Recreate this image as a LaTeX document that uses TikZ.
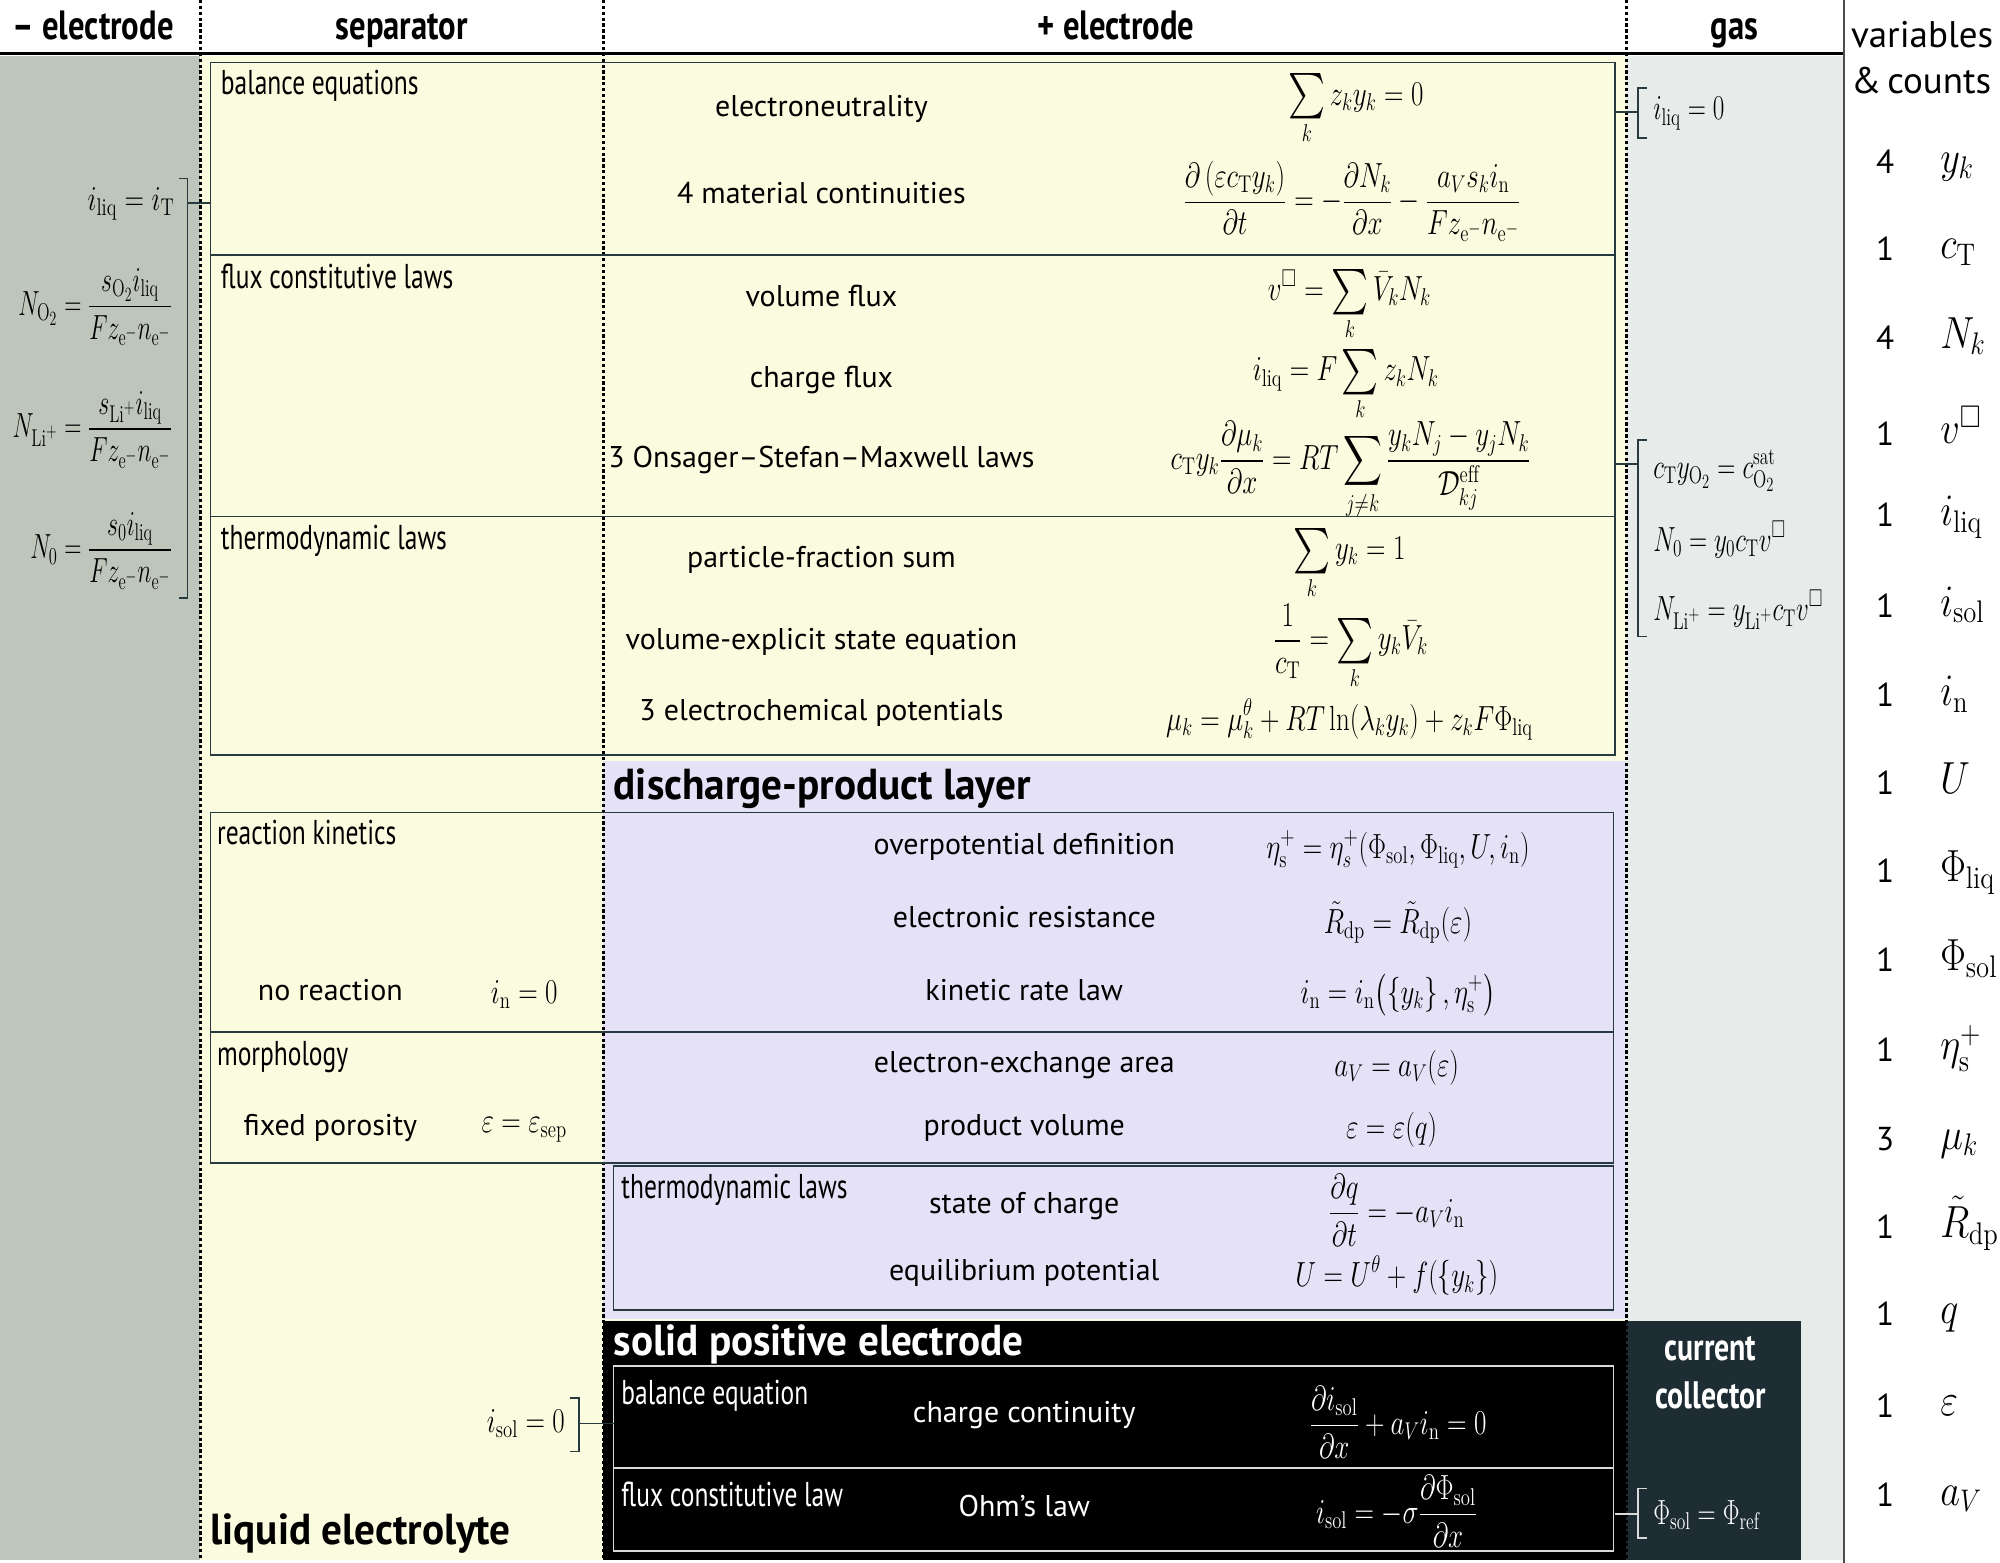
\documentclass[tikz,border=0pt]{standalone}
\usepackage{amsmath,amssymb}
\usepackage{graphicx}
\usepackage{fontspec}
\newfontfamily\txtf{PT Sans}
\newfontfamily\cndf[FakeStretch=0.74]{PT Sans}
\newfontfamily\hdrf[FakeStretch=0.8]{PT Sans}
\newfontfamily\ccf[FakeStretch=0.78]{PT Sans}
\newfontfamily\bigf[FakeStretch=0.95]{PT Sans}
\definecolor{negc}{RGB}{190,197,187}
\definecolor{liqc}{RGB}{251,251,223}
\definecolor{gasc}{RGB}{231,236,234}
\definecolor{dpc}{RGB}{229,226,248}
\definecolor{ccc}{RGB}{30,45,52}
\definecolor{boxc}{RGB}{38,58,64}
\newcommand\EQ[1]{\scalebox{1.02}[1.32]{$\displaystyle #1$}}
\newcommand\EQN[1]{\scalebox{0.9}[1.32]{$\displaystyle #1$}}
\newcommand\EQG[1]{\scalebox{0.95}[1.32]{$\displaystyle #1$}}
\newcommand\VAR[1]{\scalebox{1.45}[1.7]{$#1$}}
\newcommand\SUM{\mathop{\vcenter{\hbox{\scalebox{1.3}{$\textstyle\sum$}}}}\limits}
\newcommand\rmsub[1]{\mathrm{#1}}
\begin{document}
\begin{tikzpicture}[x=1pt,y=-1pt,
  box/.style={draw=boxc,line width=1.3pt},
  wbox/.style={draw=white!85!black,line width=1.3pt},
  dots/.style={line width=2.1pt,dash pattern=on 2.6pt off 2pt},
  brk/.style={draw=boxc,line width=1.3pt},
  wbrk/.style={draw=white!85!black,line width=1.3pt},
  txt/.style={inner sep=0pt,font=\txtf\fontsize{23.5}{28}\selectfont,anchor=mid},
  lbl/.style={inner sep=0pt,font=\cndf\fontsize{27}{32}\selectfont,anchor=base west},
  hdr/.style={inner sep=0pt,font=\hdrf\bfseries\fontsize{32}{38}\selectfont,anchor=base},
  big/.style={inner sep=0pt,font=\bigf\bfseries\fontsize{34}{40}\selectfont,anchor=base west},
  ccl/.style={inner sep=0pt,font=\ccf\bfseries\fontsize{30}{36}\selectfont,anchor=base,text=white},
  eq/.style={inner sep=0pt,font=\fontsize{20.74}{25}\selectfont},
  cnt/.style={inner sep=0pt,font=\txtf\fontsize{26}{30}\selectfont,anchor=base},
  var/.style={inner sep=0pt,font=\fontsize{20.74}{25}\selectfont,anchor=base west},
]
\useasboundingbox (0,0) rectangle (1568,1225);
% backgrounds
\fill[white] (0,0) rectangle (1568,1225);
\fill[negc] (0,44) rectangle (157,1223);
\fill[liqc] (157,44) rectangle (1275,1223);
\fill[gasc] (1275,44) rectangle (1446,1223);
\fill[dpc] (473,597) rectangle (1275,1034);
\fill[black] (473,1036) rectangle (1275,1223);
\fill[ccc] (1275,1036) rectangle (1412,1223);
% frame lines
\draw[line width=3pt] (0,42) -- (1446,42);
\draw[line width=1.5pt,black!70] (1446,0) -- (1446,1225);
\draw[dots] (157,0) -- (157,1223);
\draw[dots] (473,0) -- (473,1223);
\draw[dots] (1275,0) -- (1275,1223);
% boxes
\draw[box] (165,49) rectangle (1266,592);
\draw[box] (165,200) -- (1266,200);
\draw[box] (165,405) -- (1266,405);
\draw[box] (165,637) rectangle (1265,912);
\draw[box] (165,809) -- (1265,809);
\draw[box] (481,914) rectangle (1265,1027);
\draw[wbox] (481,1071) rectangle (1265,1216);
\draw[wbox] (481,1151) -- (1265,1151);
% headers
\node[hdr] (h1) at (73,31) {– electrode};
\node[hdr] (h2) at (315,31) {separator};
\node[hdr] (h3) at (875,31) {+ electrode};
\node[hdr] (h4) at (1360,31) {gas};
\node[inner sep=0pt,font=\txtf\fontsize{29}{34}\selectfont,anchor=base west] (h5) at (1451,37) {variables};
\node[inner sep=0pt,font=\txtf\fontsize{29}{34}\selectfont,anchor=base west] (h6) at (1451,73) {\&\,counts};
% section labels
\node[lbl] (s1) at (173,74) {balance equations};
\node[lbl] (s2) at (173,226) {flux constitutive laws};
\node[lbl] (s3) at (173,431) {thermodynamic laws};
\node[lbl] (s4) at (170,662) {reaction kinetics};
\node[lbl] (s5) at (170,835) {morphology};
\node[lbl] (s6) at (487,940) {thermodynamic laws};
\node[lbl,text=white] (s7) at (487,1101) {balance equation};
\node[lbl,text=white] (s8) at (487,1181) {flux constitutive law};
\node[big] (b1) at (481,627) {discharge-product layer};
\node[big,text=white] (b2) at (481,1063) {solid positive electrode};
\node[big] (b3) at (165,1211) {liquid electrolyte};
\node[ccl] (b4) at (1341,1067) {current};
\node[ccl] (b5) at (1341,1104) {collector};
% liquid texts
\node[txt] (t1) at (644,89) {electroneutrality};
\node[txt] (t2) at (644,157) {4 material continuities};
\node[txt] (t3) at (644,238) {volume flux};
\node[txt] (t4) at (644,302) {charge flux};
\node[txt] (t5) at (644,364) {3 Onsager–Stefan–Maxwell laws};
\node[txt] (t6) at (644,443) {particle-fraction sum};
\node[txt] (t7) at (644,507) {volume-explicit state equation};
\node[txt] (t8) at (644,563) {3 electrochemical potentials};
% dp texts
\node[txt] (t9) at (803,668) {overpotential definition};
\node[txt] (t10) at (803,725) {electronic resistance};
\node[txt] (t11) at (803,782) {kinetic rate law};
\node[txt] (t12) at (803,839) {electron-exchange area};
\node[txt] (t13) at (803,888) {product volume};
\node[txt] (t14) at (803,949) {state of charge};
\node[txt] (t15) at (803,1002) {equilibrium potential};
\node[txt,text=white] (t16) at (803,1113) {charge continuity};
\node[txt,text=white] (t17) at (803,1187) {Ohm’s law};
\node[txt] (t18) at (259,782) {no reaction};
\node[txt] (t19) at (259,888) {fixed porosity};
% liquid equations
\node[eq] (e1) at (1063,86) {\EQ{\SUM_k z_k y_k = 0}};
\node[eq] (e2) at (1060,158) {\EQ{\frac{\partial\left(\varepsilon c_{\rmsub T} y_k\right)}{\partial t} = -\frac{\partial N_k}{\partial x} - \frac{a_V s_k i_{\rmsub n}}{F z_{\mathrm{e}^-} n_{\mathrm{e}^-}}}};
\node[eq] (e3) at (1058,239) {\EQ{v^{\square} = \SUM_k \bar{V}_k N_k}};
\node[eq] (e4) at (1055,302) {\EQ{i_{\rmsub{liq}} = F\SUM_k z_k N_k}};
\node[eq] (e5) at (1059,369) {\EQ{c_{\rmsub T} y_k \frac{\partial \mu_k}{\partial x} = RT\sum_{j\neq k}\frac{y_k N_j - y_j N_k}{\mathcal{D}_{kj}^{\rmsub{eff}}}}};
\node[eq] (e6) at (1058,442) {\EQ{\SUM_k y_k = 1}};
\node[eq] (e7) at (1059,507) {\EQ{\frac{1}{c_{\rmsub T}} = \SUM_k y_k \bar{V}_k}};
\node[eq] (e8) at (1058,564) {\EQ{\mu_k = \mu_k^{\theta} + RT\ln\!\left(\lambda_k y_k\right) + z_k F \Phi_{\rmsub{liq}}}};
% dp equations
\node[eq] (e9) at (1096,666) {\EQ{\eta_{\rmsub s}^{+} = \eta_s^{+}\!\left(\Phi_{\rmsub{sol}},\Phi_{\rmsub{liq}},U,i_{\rmsub n}\right)}};
\node[eq] (e10) at (1096,723) {\EQ{\tilde{R}_{\rmsub{dp}} = \tilde{R}_{\rmsub{dp}}\!\left(\varepsilon\right)}};
\node[eq] (e11) at (1096,780) {\EQ{i_{\rmsub n} = i_{\rmsub n}\!\left(\left\{y_k\right\},\eta_{\rmsub s}^{+}\right)}};
\node[eq] (e12) at (1095,837) {\EQ{a_V = a_V\!\left(\varepsilon\right)}};
\node[eq] (e13) at (1091,886) {\EQ{\varepsilon = \varepsilon\!\left(q\right)}};
\node[eq] (e14) at (1095,949) {\EQ{\frac{\partial q}{\partial t} = -a_V i_{\rmsub n}}};
\node[eq] (e15) at (1095,1000) {\EQ{U = U^{\theta} + f\!\left(\left\{y_k\right\}\right)}};
\node[eq,text=white] (e16) at (1096,1115) {\EQ{\frac{\partial i_{\rmsub{sol}}}{\partial x} + a_V i_{\rmsub n} = 0}};
\node[eq,text=white] (e17) at (1095,1185) {\EQ{i_{\rmsub{sol}} = -\sigma\frac{\partial \Phi_{\rmsub{sol}}}{\partial x}}};
% separator equations
\node[eq] (e18) at (411,780) {\EQ{i_{\rmsub n} = 0}};
\node[eq] (e19) at (411,886) {\EQ{\varepsilon = \varepsilon_{\rmsub{sep}}}};
\node[eq,anchor=east] (e20) at (443,1116) {\EQ{i_{\rmsub{sol}} = 0}};
% negative electrode boundary conditions
\node[eq,anchor=east] (n1) at (137,160) {\EQ{i_{\rmsub{liq}} = i_{\rmsub T}}};
\node[eq,anchor=east] (n2) at (135,241) {\EQN{N_{\mathrm{O}_2} = \frac{s_{\mathrm{O}_2} i_{\rmsub{liq}}}{F z_{\mathrm{e}^-} n_{\mathrm{e}^-}}}};
\node[eq,anchor=east] (n3) at (135,337) {\EQN{N_{\mathrm{Li}^+} = \frac{s_{\mathrm{Li}^+} i_{\rmsub{liq}}}{F z_{\mathrm{e}^-} n_{\mathrm{e}^-}}}};
\node[eq,anchor=east] (n4) at (135,432) {\EQN{N_{0} = \frac{s_{0} i_{\rmsub{liq}}}{F z_{\mathrm{e}^-} n_{\mathrm{e}^-}}}};
% gas boundary conditions
\node[eq,anchor=west] (g1) at (1296,89) {\EQG{i_{\rmsub{liq}} = 0}};
\node[eq,anchor=west] (g2) at (1296,369) {\EQG{c_{\rmsub T} y_{\mathrm{O}_2} = c_{\mathrm{O}_2}^{\rmsub{sat}}}};
\node[eq,anchor=west] (g3) at (1296,423) {\EQG{N_0 = y_0 c_{\rmsub T} v^{\square}}};
\node[eq,anchor=west] (g4) at (1296,478) {\EQG{N_{\mathrm{Li}^+} = y_{\mathrm{Li}^+} c_{\rmsub T} v^{\square}}};
\node[eq,anchor=west,text=white] (g5) at (1296,1188) {\EQG{\Phi_{\rmsub{sol}} = \Phi_{\rmsub{ref}}}};
% brackets
\coordinate (bl1) at (140,140); \coordinate (bl2) at (147,140);
\coordinate (bl3) at (147,469); \coordinate (bl4) at (140,469);
\coordinate (bl5) at (147,159); \coordinate (bl6) at (165,159);
\draw[brk] (bl1) -- (bl2) -- (bl3) -- (bl4);
\draw[brk] (bl5) -- (bl6);
\coordinate (bg1) at (1291,69); \coordinate (bg2) at (1284,69);
\coordinate (bg3) at (1284,108); \coordinate (bg4) at (1291,108);
\coordinate (bg5) at (1266,88); \coordinate (bg6) at (1284,88);
\draw[brk] (bg1) -- (bg2) -- (bg3) -- (bg4);
\draw[brk] (bg5) -- (bg6);
\coordinate (bh1) at (1291,345); \coordinate (bh2) at (1284,345);
\coordinate (bh3) at (1284,499); \coordinate (bh4) at (1291,499);
\coordinate (bh5) at (1266,364); \coordinate (bh6) at (1284,364);
\draw[brk] (bh1) -- (bh2) -- (bh3) -- (bh4);
\draw[brk] (bh5) -- (bh6);
\coordinate (bs1) at (447,1096); \coordinate (bs2) at (454,1096);
\coordinate (bs3) at (454,1138); \coordinate (bs4) at (447,1138);
\coordinate (bs5) at (454,1116); \coordinate (bs6) at (481,1116);
\draw[brk] (bs1) -- (bs2) -- (bs3) -- (bs4);
\draw[brk] (bs5) -- (bs6);
\coordinate (bc1) at (1291,1167); \coordinate (bc2) at (1284,1167);
\coordinate (bc3) at (1284,1206); \coordinate (bc4) at (1291,1206);
\coordinate (bc5) at (1266,1187); \coordinate (bc6) at (1284,1187);
\draw[wbrk] (bc1) -- (bc2) -- (bc3) -- (bc4);
\draw[wbrk] (bc5) -- (bc6);
% variables and counts
\foreach \n/\yy/\c/\v in {
  1/127/4/{y_k}, 2/195/1/{c_{\rmsub T}}, 3/265/4/{N_k}, 4/340/1/{v^{\square}},
  5/404/1/{i_{\rmsub{liq}}}, 6/475/1/{i_{\rmsub{sol}}}, 7/545/1/{i_{\rmsub n}}, 8/614/1/{U},
  9/683/1/{\Phi_{\rmsub{liq}}}, 10/753/1/{\Phi_{\rmsub{sol}}}, 11/823/1/{\eta_{\rmsub s}^{+}}, 12/893/3/{\mu_k},
  13/962/1/{\tilde{R}_{\rmsub{dp}}}, 14/1030/1/{q}, 15/1102/1/{\varepsilon}, 16/1172/1/{a_V}} {
  \node[cnt] (c\n) at (1478,\yy+9) {\c};
  \node[var] (v\n) at (1521,\yy+8) {\VAR{\v}};
}
\end{tikzpicture}
\end{document}
